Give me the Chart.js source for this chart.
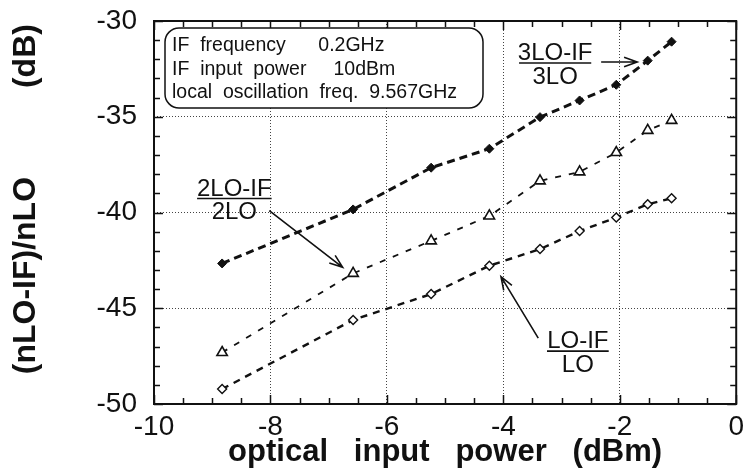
<!DOCTYPE html>
<html>
<head>
<meta charset="utf-8">
<script src="https://cdn.jsdelivr.net/npm/chart.js@4/dist/chart.umd.min.js"></script>
<style>
  html, body { margin: 0; padding: 0; background: #fff; }
  #wrap { width: 750px; height: 475px; position: relative; }
</style>
</head>
<body>
<div id="wrap"><canvas id="mix"></canvas></div>
<script>
"use strict";

// optical input power (dBm), shared by all three curves
var powerIn = [-8.83, -6.58, -5.24, -4.24, -3.37, -2.69, -2.06, -1.52, -1.11];
// conversion ratios (dB)
var ratio3LO = [-42.66, -39.84, -37.66, -36.67, -35.02, -34.15, -33.33, -32.07, -31.08];
var ratio2LO = [-47.31, -43.18, -41.48, -40.18, -38.35, -37.88, -36.87, -35.71, -35.19];
var ratioLO  = [-49.22, -45.61, -44.26, -42.78, -41.91, -40.97, -40.26, -39.57, -39.26];

var xTicks = [-10, -8, -6, -4, -2, 0];
var yTicks = [-30, -35, -40, -45, -50];

var infoLines = ['IF  frequency      0.2GHz', 'IF  input  power     10dBm', 'local  oscillation  freq.  9.567GHz'];

// fraction labels: numerator, denominator, centre (data units), arrow from/to (data units)
var labels = [
    { num: '3LO-IF', den: '3LO', x: -3.11, y: -32.19, half: 0.62, from: [-2.32, -32.14], to: [-1.70, -32.14] },
    { num: '2LO-IF', den: '2LO', x: -8.62, y: -39.27, half: 0.64, from: [-8.02, -39.90], to: [-6.76, -42.86] },
    { num: 'LO-IF',  den: 'LO',  x: -2.72, y: -47.24, half: 0.53, from: [-3.40, -46.56], to: [-4.04, -43.35] }
];

function pts(ys) {
    return powerIn.map(function (x, i) { return { x: x, y: ys[i] }; });
}

var sans = '"Liberation Sans", Arial, Helvetica, sans-serif';

/* frame, inward ticks, info box, fraction labels and arrows */
var decor = {
    id: 'decor',
    afterDatasetsDraw: function (chart) {
        var ctx = chart.ctx, a = chart.chartArea;
        var xs = chart.scales.x, ys = chart.scales.y;
        ctx.save();
        ctx.strokeStyle = '#111';
        ctx.lineWidth = 2;
        ctx.strokeRect(a.left, a.top, a.right - a.left, a.bottom - a.top);

        ctx.lineWidth = 1.5;
        ctx.beginPath();
        for (var v = -10; v <= 0.001; v += 0.5) {
            var px = Math.round(xs.getPixelForValue(v)) + 0.5;
            var len = (Math.abs(v % 2) < 0.01) ? 9 : 6;
            ctx.moveTo(px, a.bottom); ctx.lineTo(px, a.bottom - len);
            ctx.moveTo(px, a.top); ctx.lineTo(px, a.top + len);
        }
        for (var w = -50; w <= -30; w += 1) {
            var py = Math.round(ys.getPixelForValue(w)) + 0.5;
            var l2 = (w % 5 === 0) ? 9 : 6;
            ctx.moveTo(a.left, py); ctx.lineTo(a.left + l2, py);
            ctx.moveTo(a.right, py); ctx.lineTo(a.right - l2, py);
        }
        ctx.stroke();

        // info box
        var bx = a.left + 11, by = a.top + 7, bw = 318, bh = 80, r = 14;
        ctx.fillStyle = '#fff';
        ctx.beginPath();
        ctx.roundRect(bx, by, bw, bh, r);
        ctx.fill();
        ctx.lineWidth = 1.5;
        ctx.stroke();
        ctx.fillStyle = '#111';
        ctx.font = '19.5px ' + sans;
        ctx.textBaseline = 'middle';
        ctx.textAlign = 'left';
        infoLines.forEach(function (t, i) {
            ctx.fillText(t, bx + 7, by + 18 + i * 23.5);
        });

        // fraction labels with arrows
        ctx.font = '24px ' + sans;
        ctx.textAlign = 'center';
        ctx.lineWidth = 1.6;
        labels.forEach(function (L) {
            var cx = xs.getPixelForValue(L.x), cy = ys.getPixelForValue(L.y);
            var hw = xs.getPixelForValue(L.x + L.half) - cx;
            ctx.textBaseline = 'alphabetic';
            ctx.fillText(L.num, cx, cy - 3);
            ctx.textBaseline = 'top';
            ctx.fillText(L.den, cx, cy + 2);
            ctx.beginPath();
            ctx.moveTo(cx - hw, cy); ctx.lineTo(cx + hw, cy);
            ctx.stroke();

            var x0 = xs.getPixelForValue(L.from[0]), y0 = ys.getPixelForValue(L.from[1]);
            var x1 = xs.getPixelForValue(L.to[0]), y1 = ys.getPixelForValue(L.to[1]);
            var ang = Math.atan2(y1 - y0, x1 - x0);
            ctx.beginPath();
            ctx.moveTo(x0, y0); ctx.lineTo(x1, y1);
            ctx.moveTo(x1 - 14 * Math.cos(ang - 0.35), y1 - 14 * Math.sin(ang - 0.35));
            ctx.lineTo(x1, y1);
            ctx.lineTo(x1 - 14 * Math.cos(ang + 0.35), y1 - 14 * Math.sin(ang + 0.35));
            ctx.stroke();
        });
        ctx.restore();
    }
};

var ctx = document.getElementById('mix').getContext('2d');
var mixChart = new Chart(ctx, {
    type: 'line',
    data: {
        datasets: [{
            label: '3LO-IF / 3LO',
            data: pts(ratio3LO),
            borderColor: '#111',
            backgroundColor: '#111',
            borderWidth: 3,
            borderDash: [8, 5],
            pointStyle: 'rectRot',
            pointRadius: 4.5,
            pointBorderWidth: 1,
            tension: 0
        }, {
            label: '2LO-IF / 2LO',
            data: pts(ratio2LO),
            borderColor: '#111',
            backgroundColor: '#fff',
            borderWidth: 1.8,
            borderDash: [6, 8],
            pointStyle: 'triangle',
            pointRadius: 6,
            pointBorderWidth: 1.6,
            tension: 0
        }, {
            label: 'LO-IF / LO',
            data: pts(ratioLO),
            borderColor: '#111',
            backgroundColor: '#fff',
            borderWidth: 2.4,
            borderDash: [7, 6],
            pointStyle: 'rectRot',
            pointRadius: 4.5,
            pointBorderWidth: 1.4,
            tension: 0
        }]
    },
    options: {
        responsive: true,
        maintainAspectRatio: false,
        animation: false,
        layout: { padding: { left: 0, top: 21, right: 10, bottom: 0 } },
        plugins: {
            legend: { display: false },
            tooltip: { enabled: false }
        },
        scales: {
            x: {
                type: 'linear',
                min: -10,
                max: 0,
                afterBuildTicks: function (s) { s.ticks = xTicks.map(function (v) { return { value: v }; }); },
                afterFit: function (s) { s.height = 71; },
                grid: {
                    drawTicks: false,
                    color: function (c) { return (c.tick && (c.tick.value === -10 || c.tick.value === 0)) ? 'rgba(0,0,0,0)' : '#444'; },
                    lineWidth: 1
                },
                border: { display: false, dash: [1, 2] },
                ticks: { color: '#111', padding: 6, font: { family: sans, size: 28 }, maxRotation: 0 },
                title: {
                    display: true,
                    text: 'optical   input   power   (dBm)',
                    color: '#111',
                    font: { family: sans, size: 31, weight: 'bold' },
                    padding: { top: 0, bottom: 4 }
                }
            },
            y: {
                type: 'linear',
                min: -50,
                max: -30,
                afterBuildTicks: function (s) { s.ticks = yTicks.map(function (v) { return { value: v }; }); },
                afterFit: function (s) {
                    s.width = 154;
                    s.paddingTop = 0;
                    s.paddingBottom = 0;
                },
                grid: {
                    drawTicks: false,
                    color: function (c) { return (c.tick && (c.tick.value === -30 || c.tick.value === -50)) ? 'rgba(0,0,0,0)' : '#444'; },
                    lineWidth: 1
                },
                border: { display: false, dash: [1, 2] },
                ticks: { color: '#111', padding: 17, font: { family: sans, size: 28, lineHeight: 0.1 } },
                title: {
                    display: true,
                    text: '   (nLO-IF)/nLO          (dB)',
                    color: '#111',
                    font: { family: sans, size: 32, weight: 'bold' },
                    padding: { top: 7, bottom: 0 }
                }
            }
        }
    },
    plugins: [decor]
});
</script>
</body>
</html>
